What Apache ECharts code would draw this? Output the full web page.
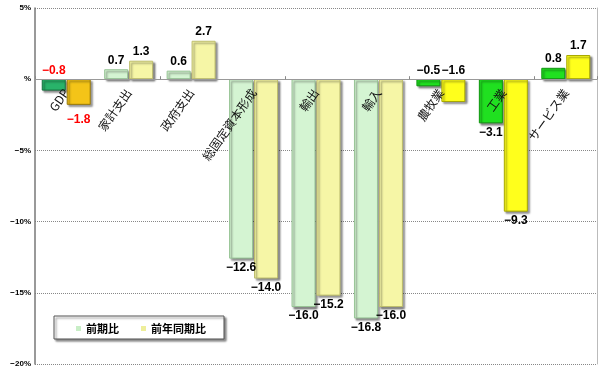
<!DOCTYPE html>
<html>
<head>
<meta charset="utf-8">
<script src="https://cdn.jsdelivr.net/npm/echarts@6/dist/echarts.min.js"></script>
<style>html,body{margin:0;padding:0;background:#fff;}#c{width:600px;height:372px;}</style>
</head>
<body>
<div id="c"></div>
<script>
const categories = ['GDP', '家計支出', '政府支出', '総固定資本形成', '輸出', '輸入', '農牧業', '工業', 'サービス業'];
const seriesNames = ['前期比', '前年同期比'];
const qoq = [-0.8, 0.7, 0.6, -12.6, -16.0, -16.8, -0.5, -3.1, 0.8];
const yoy = [-1.8, 1.3, 2.7, -14.0, -15.2, -16.0, -1.6, -9.3, 1.7];

// style groups by category index
const groupOf = i => (i === 0 ? 'gdp' : (i >= 6 ? 'bright' : 'light'));
const palette = {
  gdp:    [{c: '#29b36a', b: '#17703f'}, {c: '#f4c418', b: '#9a7a08'}],
  light:  [{c: '#d4f4d2', b: '#97c495'}, {c: '#f6f6a6', b: '#bdbd6c'}],
  bright: [{c: '#20e020', b: '#0e950e'}, {c: '#ffff1c', b: '#a8a800'}]
};
const legendColors = ['#c8eec6', '#eeee9a'];
// label placement overrides (which bars put labels above the zero line)
const labelTop = {0: [true, false], 6: [true, true]};

const fmt = v => (v < 0 ? '\u2212' + Math.abs(v).toFixed(1) : v.toFixed(1));

function buildSeries(vals, s) {
  return vals.map((v, i) => {
    const p = palette[groupOf(i)][s];
    const top = labelTop[i] && labelTop[i][s];
    const item = {
      value: v,
      itemStyle: {
        color: p.c, borderColor: p.b, borderWidth: 1,
        shadowColor: 'rgba(0,0,0,0.45)', shadowBlur: 2, shadowOffsetX: 2, shadowOffsetY: 2
      },
      label: {
        position: top ? 'top' : (v >= 0 ? 'top' : 'bottom'),
        color: i === 0 ? '#ff0000' : '#000'
      }
    };
    if (i === 0 && s === 1) item.label.distance = 9;
    return item;
  });
}

const chart = echarts.init(document.getElementById('c'), null, {renderer: 'canvas'});
const labelCommon = {
  show: true, fontSize: 12, fontWeight: 'bold', fontFamily: 'Liberation Sans, Arial, sans-serif',
  distance: 3, formatter: p => fmt(p.value)
};
chart.setOption({
  animation: false,
  backgroundColor: '#fff',
  grid: {left: 35, right: 3, top: 8, bottom: 8, containLabel: false, outerBoundsMode: 'none'},
  legend: {
    left: 54, top: 316,
    padding: [7, 18, 5, 22],
    itemWidth: 5, itemHeight: 5, itemGap: 22,
    backgroundColor: '#fff', borderColor: '#555', borderWidth: 1,
    shadowColor: 'rgba(0,0,0,0.45)', shadowBlur: 2, shadowOffsetX: 2, shadowOffsetY: 2,
    textStyle: {fontSize: 11, fontWeight: 'bold', color: '#000', fontFamily: 'Noto Sans CJK JP'},
    data: [
      {name: seriesNames[0], icon: 'rect', itemStyle: {color: legendColors[0]}},
      {name: seriesNames[1], icon: 'rect', itemStyle: {color: legendColors[1]}}
    ]
  },
  xAxis: [{
    type: 'category', data: categories, z: 5,
    axisLine: {onZero: true, onZeroAxisIndex: 0, lineStyle: {color: '#999', width: 1}},
    axisTick: {show: true, inside: true, length: 3, lineStyle: {color: '#888'}},
    axisLabel: {show: false},
    splitLine: {show: false}
  }, {
    type: 'category', data: categories, position: 'top', z: 6, offset: 0,
    axisLine: {show: false, onZero: false},
    axisTick: {show: false},
    axisLabel: {
      show: true, inside: true, interval: 0, rotate: -55, margin: 11, fontSize: 12, color: '#111',
      fontFamily: 'Noto Sans CJK JP'
    },
    splitLine: {show: false}
  }],
  yAxis: [{
    type: 'value', min: -20, max: 5, interval: 5,
    axisLine: {show: true, lineStyle: {color: '#777', width: 1.5}},
    axisTick: {show: false},
    axisLabel: {
      fontSize: 8, fontWeight: 'bold', color: '#000', margin: 4,
      fontFamily: 'Liberation Sans, Arial, sans-serif',
      formatter: v => Number(v) === 0 ? '%' : (v < 0 ? '\u2212' + Math.abs(v) + '%' : v + '%')
    },
    splitLine: {show: true, lineStyle: {color: '#888', type: [1, 1], width: 1}}
  }, {
    type: 'value', min: -20, max: 5, interval: 5, position: 'right',
    axisLine: {show: true, onZero: false, lineStyle: {color: '#bbb', width: 1}},
    axisTick: {show: false}, axisLabel: {show: false}, splitLine: {show: false}
  }],
  series: [
    {name: seriesNames[0], type: 'bar', data: buildSeries(qoq, 0), barWidth: 24, barGap: '4%',
     label: labelCommon, itemStyle: {color: legendColors[0]}},
    {name: seriesNames[1], type: 'bar', data: buildSeries(yoy, 1), barWidth: 24, barGap: '4%',
     label: labelCommon, itemStyle: {color: legendColors[1]}}
  ]
});
// move the category-label axis down to the zero line, using the library's scale
const yZero = chart.convertToPixel({yAxisIndex: 0}, 0);
const yTop = chart.convertToPixel({yAxisIndex: 0}, 5);
chart.setOption({xAxis: [{}, {offset: -(yZero - yTop)}]});
</script>
</body>
</html>
